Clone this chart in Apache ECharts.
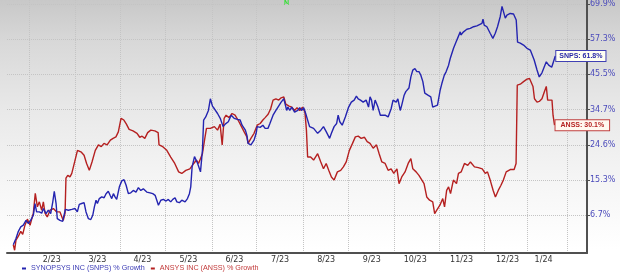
<!DOCTYPE html>
<html lang="en">
<head>
<meta charset="UTF-8">
<title>SNPS vs ANSS % Growth</title>
<script src="https://cdn.jsdelivr.net/npm/echarts@6/dist/echarts.min.js"></script>
<style>
  html, body { margin: 0; padding: 0; background: #fff; }
  #chart { width: 620px; height: 277px; }
</style>
</head>
<body>
<div id="chart"></div>
<script>
// x values are days counted from 2023-01-01
var monthStarts = [31, 61.5, 92, 122, 153, 183, 214, 244.3, 275, 305, 335.2, 363.6, 390.3];
var labelDays = [46, 76.5, 106.6, 137.3, 168.1, 198.6, 229.4, 259.9, 288.9, 319.9, 350.6, 374.7];
var monthLabels = ['2/23', '3/23', '4/23', '5/23', '6/23', '7/23', '8/23', '9/23', '10/23', '11/23', '12/23', '1/24'];

// y axis is logarithmic in (1 + growth)
var yTicks = [6.7, 15.3, 24.6, 34.7, 45.5, 57.3, 69.9];
var yMinPct = -1.8, yMaxPct = 71.4;

var snpsDays = [20.3,22.1,23.7,25.3,27.0,28.8,30.3,31.9,33.7,34.8,
  35.9,37.7,39.3,40.4,42.2,43.7,45.3,46.7,47.7,48.9,
  49.7,51.5,53.3,54.2,55.1,57.1,59.4,61.6,63.1,64.4,
  66.0,67.6,68.9,70.5,72.1,73.4,74.5,75.6,76.5,77.8,
  79.4,81.0,82.3,83.8,85.0,86.1,87.2,88.3,89.4,91.2,
  92.8,94.3,95.7,97.2,98.8,100.5,102.3,103.9,105.5,107.2,
  109.5,111.7,113.5,115.1,116.2,117.3,118.9,120.6,122.4,123.9,
  125.5,126.9,128.4,129.6,131.3,132.9,135.1,136.7,138.0,138.9,
  139.8,141.4,143.5,145.4,146.7,147.5,148.9,150.7,152.0,153.4,
  154.7,156.8,158.6,160.5,162.1,164.0,165.9,167.9,170.1,171.9,
  173.2,175.4,176.4,177.2,179.1,181.2,182.6,183.3,185.3,187.1,
  188.6,190.5,191.8,193.9,195.8,197.2,199.3,201.1,203.0,203.8,
  205.1,206.4,208.3,210.4,211.7,213.1,214.4,215.7,218.3,221.0,
  223.7,225.8,227.6,229.5,231.7,232.9,234.7,236.4,237.4,238.5,
  240.1,242.2,244.4,246.2,248.1,249.6,250.8,252.3,254.1,256.1,
  257.7,258.7,259.7,260.8,262.1,264.0,265.6,266.6,268.8,270.8,
  272.8,274.1,276.2,277.3,278.9,279.9,281.5,282.6,284.7,286.0,
  287.3,288.7,290.0,291.4,292.6,294.0,295.3,297.4,299.3,300.6,
  301.9,303.8,305.6,306.7,308.3,309.6,311.2,312.3,313.4,314.5,
  315.6,316.8,319.0,319.4,321.2,323.4,325.7,327.9,330.1,333.5,
  334.2,335.0,336.8,339.0,340.8,342.4,343.9,345.7,346.9,347.9,
  349.1,350.2,352.4,354.6,355.8,356.4,357.3,359.1,361.3,363.6,
  365.8,366.9,368.4,370.3,371.8,373.6,375.1,376.5,378.1,380.1,
  381.3,382.5];
var snpsGrowth = [0,1.4,3.0,4.0,4.4,5.5,4.8,5.5,6.7,9.5,
  7.5,7.5,7.2,8.3,7.1,7.9,7.1,9.9,12.5,9.5,
  5.9,5.5,5.3,5.5,8.1,7.9,8.1,8.3,7.5,9.3,
  9.5,9.7,7.5,5.9,5.7,6.7,8.7,10.3,9.5,10.7,
  11.1,10.9,11.9,12.5,11.5,10.7,11.9,11.1,10.5,13.6,
  15.1,15.4,14.0,11.9,12.1,12.7,12.3,13.4,12.7,13.1,
  12.3,12.1,11.9,11.5,10.3,9.1,10.3,10.5,10.1,10.5,
  9.9,10.5,10.9,9.9,9.7,10.3,9.9,10.7,11.9,13.6,
  18.7,21.4,19.6,17.4,23.1,31.6,32.5,34.4,37.9,35.7,
  34.9,33.5,32.1,29.7,30.5,31.1,33.0,32.1,31.8,31.6,
  30.1,28.7,27.3,25.0,24.6,25.9,27.8,29.7,29.5,30.1,
  29.2,29.2,30.6,33.0,34.4,35.4,36.9,37.9,34.4,35.4,
  34.4,35.4,33.9,34.4,35.2,34.4,35.2,33.5,29.7,29.2,
  27.8,28.7,29.7,28.2,26.4,27.8,29.7,30.6,33.0,31.1,
  30.1,32.5,35.4,36.9,37.5,38.7,37.9,37.5,36.9,37.5,
  35.4,38.5,37.5,34.4,37.5,35.4,33.0,33.5,33.0,32.5,
  34.9,37.5,36.9,37.9,34.4,36.0,39.0,40.1,41.2,44.7,
  46.9,47.4,46.4,46.4,45.3,43.2,39.6,39.0,38.5,35.4,
  34.9,36.0,40.6,42.6,45.2,46.4,48.5,50.7,51.3,54.1,
  54.6,57.0,59.8,58.7,59.8,60.7,61.0,61.6,61.9,62.8,
  64.3,62.2,61.6,59.3,57.5,59.3,61.6,65.2,69.0,68.4,
  64.7,65.8,66.4,66.2,66.4,64.0,56.2,55.9,55.2,54.1,
  53.5,52.9,50.2,46.9,44.7,46.0,47.9,49.6,48.5,47.8,
  49.6,51.5];

var anssDays = [20.3,21.2,22.1,23.7,25.3,26.6,28.1,29.7,31.5,33.7,
  35.0,36.4,37.7,39.3,40.4,41.5,43.0,44.9,47.1,49.3,
  51.5,53.7,54.9,55.5,56.7,58.2,59.4,61.3,63.2,65.8,
  67.6,69.3,71.1,72.9,75.1,77.2,79.1,80.9,83.0,85.2,
  87.0,88.9,90.5,92.3,94.2,95.8,97.7,100.3,103.0,104.8,
  106.4,108.2,110.1,112.2,114.9,117.1,117.7,120.2,122.9,125.5,
  128.2,130.8,132.9,135.6,138.3,140.9,142.7,144.1,145.4,146.7,
  148.1,149.4,152.0,154.7,156.8,158.5,159.9,161.2,162.5,164.5,
  166.5,168.5,170.5,172.8,174.6,176.4,177.2,179.1,181.2,183.3,
  185.3,187.1,188.6,190.6,192.3,193.9,195.8,197.7,199.3,201.1,
  202.4,204.6,206.4,208.3,209.9,211.7,213.6,215.2,216.2,217.0,
  219.0,221.0,223.7,225.8,227.6,229.4,231.1,232.9,234.7,236.9,
  239.1,240.9,242.8,244.9,247.0,248.9,250.8,252.8,255.0,256.8,
  258.7,260.8,263.0,264.8,266.6,268.8,270.8,272.8,274.6,276.7,
  278.1,279.9,282.1,284.2,286.0,287.3,289.5,291.4,292.6,294.8,
  296.6,298.5,300.6,301.9,303.3,305.4,307.3,308.5,309.9,311.2,
  312.5,314.4,316.5,317.8,319.6,321.8,324.0,325.8,328.5,331.1,
  333.7,335.7,337.2,339.0,341.0,342.5,344.4,346.2,347.8,349.7,
  352.4,355.0,356.3,357.1,359.1,360.2,361.3,363.6,365.3,366.4,
  367.6,368.6,370.3,371.8,373.6,375.1,376.5,377.4,380.3,
  381.0,382.0];
var anssGrowth = [0,-1.2,1.0,1.9,3.0,2.3,4.4,5.8,4.4,7.2,
  12.0,8.7,9.9,7.9,9.9,7.2,6.3,7.9,8.3,7.5,
  7.5,5.5,7.2,15.8,16.5,16.1,17.0,20.0,23.1,22.6,
  21.8,19.6,17.8,20.0,23.1,24.6,24.1,25.0,24.6,25.9,
  26.4,26.8,28.2,32.1,31.6,30.5,28.9,28.5,27.8,26.7,
  27.0,26.4,28.0,28.7,28.5,28.0,24.6,24.1,23.1,21.3,
  19.6,17.4,17.0,17.8,18.2,19.6,20.5,19.6,20.0,22.2,
  25.9,29.2,29.2,29.7,28.7,30.4,24.6,32.1,33.0,32.3,
  33.5,33.0,31.6,29.7,28.2,26.8,25.0,26.4,27.8,30.1,
  30.6,31.6,32.3,33.3,34.9,37.5,37.9,37.5,38.2,38.5,
  36.3,35.7,35.4,34.4,35.2,34.4,35.4,33.9,28.7,21.3,
  21.3,20.5,22.2,20.0,18.2,19.6,17.8,16.1,15.3,17.4,
  17.8,18.7,20.0,23.1,25.0,26.8,27.0,26.4,26.7,25.5,
  25.0,23.7,24.6,22.2,20.0,19.6,17.8,18.2,17.0,18.2,
  14.4,16.1,17.4,19.6,20.9,18.2,17.4,16.5,17.0,14.4,
  11.1,10.3,9.9,7.1,7.9,9.1,10.7,8.7,12.7,13.6,
  11.9,15.3,14.4,17.0,17.4,19.6,19.1,20.0,18.7,18.5,
  18.2,17.0,17.4,15.3,12.7,11.1,12.7,14.0,15.3,17.4,
  18.0,18.0,19.6,42.1,42.4,42.8,43.2,44.0,44.2,43.7,
  41.7,37.9,36.9,37.1,37.9,39.9,41.7,37.5,37.5,
  33.0,30.1];

var snpsName = 'SYNOPSYS INC (SNPS) % Growth';
var anssName = 'ANSYS INC (ANSS) % Growth';

function toLog(pct) { return Math.log(1 + pct / 100); }
function pairs(days, vals) {
  var out = [];
  for (var i = 0; i < days.length; i++) out.push([days[i], toLog(vals[i])]);
  return out;
}

var myChart = echarts.init(document.getElementById('chart'));
var option = {
  animation: false,
  backgroundColor: new echarts.graphic.LinearGradient(0, 0, 0, 1, [
    { offset: 0, color: '#c8c8c8' },
    { offset: 0.15, color: '#d8d8d8' },
    { offset: 0.4, color: '#e9e9e9' },
    { offset: 0.65, color: '#f5f5f5' },
    { offset: 0.9, color: '#ffffff' }
  ]),
  grid: { left: 7, right: 33, top: 0, bottom: 24, outerBoundsMode: 'none' },
  legend: {
    left: 22, top: 265, padding: 0,
    itemWidth: 4, itemHeight: 2, itemGap: 6, icon: 'rect',
    textStyle: { fontSize: 7.2, fontFamily: 'Liberation Sans' },
    data: [
      { name: snpsName, textStyle: { color: '#3b3bb5' } },
      { name: anssName, textStyle: { color: '#c23a3a' } }
    ]
  },
  graphic: [{
    type: 'text', left: 284, top: 0,
    style: { text: 'N', fill: '#2ee02e', font: 'bold 7px Liberation Sans' }
  }],
  xAxis: {
    type: 'value',
    min: 16.1, max: 403.7,
    axisLine: { show: true, onZero: false, lineStyle: { color: '#505050', width: 2 } },
    axisTick: { show: false, customValues: monthStarts },
    splitLine: { show: true, lineStyle: { color: '#c4c4c4', type: 'dotted', width: 1 } },
    axisLabel: {
      customValues: labelDays,
      formatter: function (v) { return monthLabels[labelDays.indexOf(v)]; },
      color: '#333', fontSize: 8, fontFamily: 'DejaVu Sans', margin: 3
    }
  },
  yAxis: {
    type: 'value',
    position: 'right',
    min: toLog(yMinPct), max: toLog(yMaxPct),
    axisLine: { show: true, onZero: false, lineStyle: { color: '#505050', width: 2 } },
    axisTick: { show: true, length: 3, customValues: yTicks.map(toLog), lineStyle: { color: '#505050' } },
    splitLine: { show: true, lineStyle: { color: '#c4c4c4', type: 'dotted', width: 1 } },
    axisLabel: {
      customValues: yTicks.map(toLog),
      formatter: function (v) { return ((Math.exp(v) - 1) * 100).toFixed(1) + '%'; },
      color: '#4b4bbb', fontSize: 8, fontFamily: 'DejaVu Sans', margin: 3
    }
  },
  series: [
    {
      name: snpsName, type: 'line', z: 3,
      showSymbol: false,
      data: pairs(snpsDays, snpsGrowth),
      itemStyle: { color: '#2424b0' },
      lineStyle: { color: '#2424b0', width: 1.4 },
      endLabel: {
        show: true, formatter: 'SNPS: 61.8%', distance: 1,
        color: '#2a2aa8', fontSize: 7, fontWeight: 'bold', fontFamily: 'Liberation Sans',
        backgroundColor: '#fffff2', borderColor: '#4040b4', borderWidth: 1, padding: [2, 3, 1, 3]
      }
    },
    {
      name: anssName, type: 'line', z: 2,
      showSymbol: false,
      data: pairs(anssDays, anssGrowth),
      itemStyle: { color: '#b52020' },
      lineStyle: { color: '#b52020', width: 1.4 },
      endLabel: {
        show: true, formatter: 'ANSS: 30.1%', distance: 1,
        color: '#b52020', fontSize: 7, fontWeight: 'bold', fontFamily: 'Liberation Sans',
        backgroundColor: '#fff8f0', borderColor: '#c04040', borderWidth: 1, padding: [2, 5, 1, 5]
      }
    }
  ]
};
myChart.setOption(option);
</script>
</body>
</html>
